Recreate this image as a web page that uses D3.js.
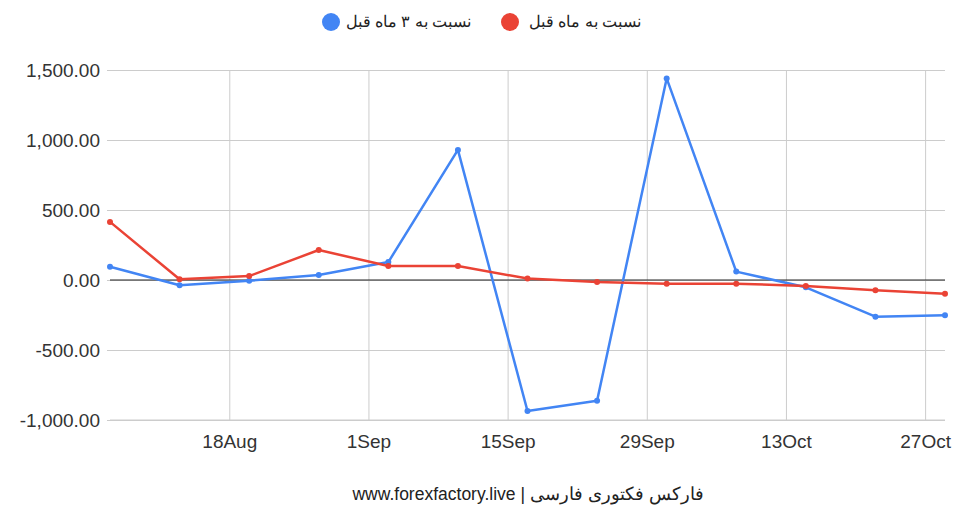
<!DOCTYPE html>
<html>
<head>
<meta charset="utf-8">
<script src="https://cdn.jsdelivr.net/npm/d3@7"></script>
<style>
  body { margin: 0; background: #fff; }
  svg { display: block; font-family: Arial, "Liberation Sans", sans-serif; }
</style>
</head>
<body>
<div id="chart"></div>
<script>
// --- data ---
var dates = ['2023-08-06', '2023-08-13', '2023-08-20', '2023-08-27', '2023-09-03', '2023-09-10',
             '2023-09-17', '2023-09-24', '2023-10-01', '2023-10-08', '2023-10-15', '2023-10-22', '2023-10-29'];
var vsThreeMonths = [95, -38, -5, 36, 128, 929, -936, -862, 1440, 60, -52, -262, -252];
var vsLastMonth = [415, 5, 28, 214, 100, 100, 10, -14, -26, -26, -43, -74, -98];
var xTicks = ['2023-08-18', '2023-09-01', '2023-09-15', '2023-09-29', '2023-10-13', '2023-10-27'];
var yTicks = [-1000, -500, 0, 500, 1000, 1500];
var seriesNames = ['نسبت به ۳ ماه قبل', 'نسبت به ماه قبل'];
var seriesColors = ['#4285f4', '#ea4335'];

var width = 955, height = 506;
var margin = {top: 70, right: 10, bottom: 86, left: 110};

var parse = d3.timeParse('%Y-%m-%d');
var days = dates.map(parse);
var fmt = d3.formatLocale({decimal: '.', thousands: ',', grouping: [3], currency: ['', ''], minus: '-'}).format(',.2f');

var svg = d3.select('#chart').append('svg')
  .attr('width', width)
  .attr('height', height);

var x = d3.scaleTime()
  .domain(d3.extent(days))
  .range([margin.left, width - margin.right]);

var y = d3.scaleLinear()
  .domain([-1000, 1500])
  .range([height - margin.bottom, margin.top]);

// horizontal grid + y labels
var yAxis = svg.append('g')
  .attr('transform', 'translate(' + margin.left + ',0)')
  .call(d3.axisLeft(y).tickValues(yTicks)
    .tickSize(-(width - margin.left - margin.right) - 3)
    .tickPadding(10)
    .tickFormat(fmt));
yAxis.select('.domain').remove();
yAxis.selectAll('.tick line').attr('stroke', '#cccccc').attr('transform', 'translate(-3,0)');
yAxis.selectAll('.tick text').attr('fill', '#333').style('font-size', '19px');

// vertical grid + x labels
var xAxis = svg.append('g')
  .attr('transform', 'translate(0,' + (height - margin.bottom) + ')')
  .call(d3.axisBottom(x).tickValues(xTicks.map(parse))
    .tickSize(-(height - margin.top - margin.bottom))
    .tickPadding(15)
    .tickFormat(d3.timeFormat('%-d%b')));
xAxis.select('.domain').remove();
xAxis.selectAll('.tick line').attr('stroke', '#cccccc');
xAxis.selectAll('.tick text').attr('fill', '#333').style('font-size', '19px');

// bottom border line
svg.append('line')
  .attr('x1', margin.left).attr('x2', width - margin.right)
  .attr('y1', y(-1000)).attr('y2', y(-1000))
  .attr('stroke', '#cccccc');

// zero line
svg.append('line')
  .attr('x1', margin.left).attr('x2', width - margin.right)
  .attr('y1', y(0)).attr('y2', y(0))
  .attr('stroke', '#222').attr('stroke-width', 1);

// series
var series = [vsThreeMonths, vsLastMonth];
var line = d3.line()
  .x(function(d, i) { return x(days[i]); })
  .y(function(d) { return y(d); });

series.forEach(function(vals, s) {
  var g = svg.append('g');
  g.append('path')
    .datum(vals)
    .attr('d', line)
    .attr('fill', 'none')
    .attr('stroke', seriesColors[s])
    .attr('stroke-width', 2.5)
    .attr('stroke-linejoin', 'round');
  g.selectAll('circle')
    .data(vals)
    .enter().append('circle')
    .attr('cx', function(d, i) { return x(days[i]); })
    .attr('cy', function(d) { return y(d); })
    .attr('r', 3)
    .attr('fill', seriesColors[s]);
});

// legend
var legendItems = [
  {name: seriesNames[0], color: seriesColors[0], cx: 331, tx: 471},
  {name: seriesNames[1], color: seriesColors[1], cx: 510, tx: 641}
];
var legend = svg.append('g');
legendItems.forEach(function(d) {
  legend.append('circle')
    .attr('cx', d.cx).attr('cy', 22).attr('r', 9)
    .attr('fill', d.color);
  legend.append('text')
    .attr('x', d.tx).attr('y', 27)
    .attr('text-anchor', 'end')
    .attr('fill', '#222')
    .style('font-size', '15.5px')
    .text(d.name);
});

// footer
svg.append('text')
  .attr('x', 528).attr('y', 500)
  .attr('text-anchor', 'middle')
  .attr('fill', '#222')
  .style('font-size', '17.5px')
  .text('www.forexfactory.live | فارکس فکتوری فارسی');
</script>
</body>
</html>
